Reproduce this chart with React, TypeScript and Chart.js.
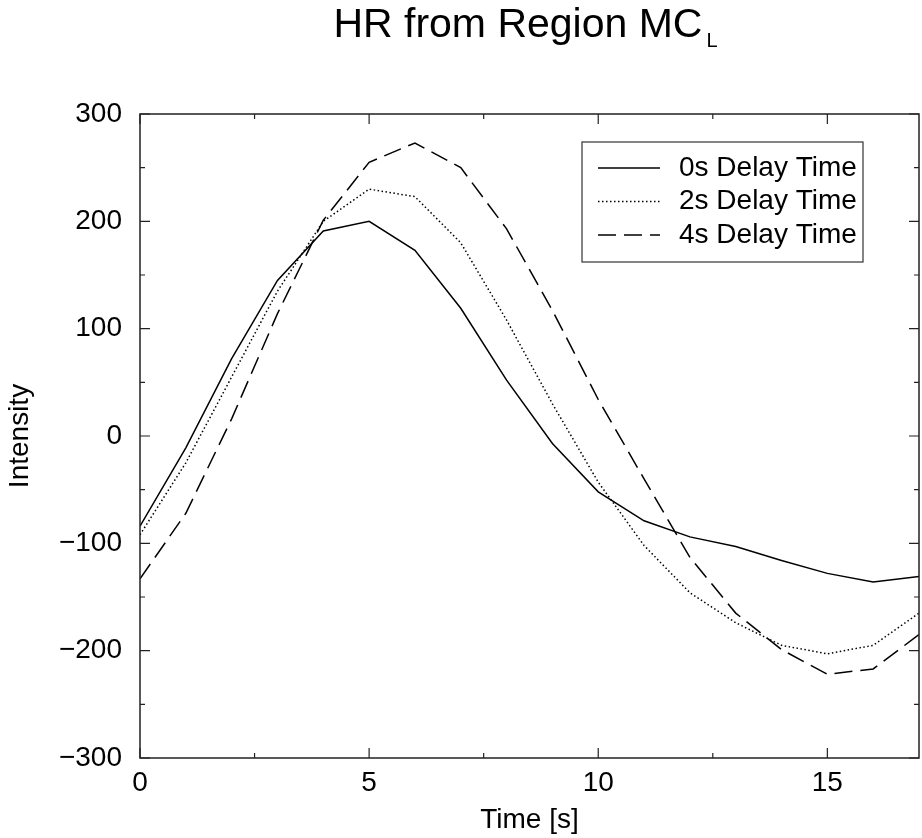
import React, { useEffect, useRef } from "react";
import { Chart, registerables } from "chart.js";

Chart.register(...registerables);

const timeValues = [0, 1, 2, 3, 4, 5, 6, 7, 8, 9, 10, 11, 12, 13, 14, 15, 16, 17];
const delay0 = [-84, -11, 72, 145, 191, 200, 173, 119, 52, -7, -52, -79, -94, -103, -116, -128, -136, -131];
const delay2 = [-92, -25, 55, 135, 200, 230, 223, 180, 108, 30, -43, -102, -146, -174, -195, -203, -195, -165];
const delay4 = [-133, -72, 16, 114, 201, 255, 273, 250, 193, 117, 34, -40, -113, -165, -199, -222, -217, -185];
const seriesLabels = ["0s Delay Time", "2s Delay Time", "4s Delay Time"];
const xTickValues = [0, 5, 10, 15];
const yTickValues = [-300, -200, -100, 0, 100, 200, 300];
const xMinorTicks = [2.5, 7.5, 12.5];
const yMinorTicks = [-250, -150, -50, 50, 150, 250];
const titleMain = "HR from Region MC";
const titleSub = "L";
const xTitle = "Time [s]";
const yTitle = "Intensity";

const FONT = "'Liberation Sans', Arial, Helvetica, sans-serif";
const dashes: number[][] = [[], [1.5, 2.5], [18, 8]];

const framePlugin = {
  id: "frameTicks",
  afterDraw(chart: any) {
    const { ctx, chartArea: a, scales } = chart;
    const xs = scales.x;
    const ys = scales.y;
    ctx.save();
    ctx.strokeStyle = "#222";
    ctx.lineWidth = 1.5;
    ctx.setLineDash([]);
    ctx.strokeRect(a.left, a.top, a.right - a.left, a.bottom - a.top);
    ctx.lineWidth = 1.2;
    const vt = (vals: number[], len: number) => {
      vals.forEach((v) => {
        const px = xs.getPixelForValue(v);
        ctx.beginPath();
        ctx.moveTo(px, a.bottom);
        ctx.lineTo(px, a.bottom - len);
        ctx.moveTo(px, a.top);
        ctx.lineTo(px, a.top + len);
        ctx.stroke();
      });
    };
    const ht = (vals: number[], len: number) => {
      vals.forEach((v) => {
        const py = ys.getPixelForValue(v);
        ctx.beginPath();
        ctx.moveTo(a.left, py);
        ctx.lineTo(a.left + len, py);
        ctx.moveTo(a.right, py);
        ctx.lineTo(a.right - len, py);
        ctx.stroke();
      });
    };
    vt(xTickValues, 10);
    vt(xMinorTicks, 5);
    ht(yTickValues, 10);
    ht(yMinorTicks, 5);

    // title
    ctx.fillStyle = "#000";
    ctx.textBaseline = "alphabetic";
    ctx.textAlign = "left";
    ctx.font = `41px ${FONT}`;
    const mw = ctx.measureText(titleMain).width;
    ctx.font = `20px ${FONT}`;
    const sw = ctx.measureText(titleSub).width;
    const gap = 4;
    const total = mw + gap + sw;
    const cx = (a.left + a.right) / 2 - 4;
    const sx = cx - total / 2;
    ctx.font = `41px ${FONT}`;
    ctx.fillText(titleMain, sx, 37);
    ctx.font = `20px ${FONT}`;
    ctx.fillText(titleSub, sx + mw + gap, 47);

    // legend
    const bx = a.right - 56 - 281;
    const by = a.top + 28;
    ctx.lineWidth = 1.2;
    ctx.strokeStyle = "#333";
    ctx.strokeRect(bx, by, 281, 120);
    ctx.font = `28px ${FONT}`;
    ctx.textBaseline = "middle";
    chart.data.datasets.forEach((ds: any, i: number) => {
      const ry = by + 26 + i * 33.5;
      ctx.strokeStyle = "#000";
      ctx.lineWidth = 1.4;
      ctx.setLineDash(dashes[i]);
      ctx.beginPath();
      ctx.moveTo(bx + 16, ry);
      ctx.lineTo(bx + 78, ry);
      ctx.stroke();
      ctx.setLineDash([]);
      ctx.fillStyle = "#000";
      ctx.fillText(ds.label, bx + 97, ry);
    });
    ctx.restore();
  },
};

const fmt = (v: number) => (v < 0 ? "\u2212" + Math.abs(v) : String(v));

export default function App() {
  const ref = useRef<HTMLCanvasElement | null>(null);
  useEffect(() => {
    if (!ref.current) return;
    const series = [delay0, delay2, delay4];
    const chart = new Chart(ref.current, {
      type: "line",
      data: {
        datasets: series.map((s, i) => ({
          label: seriesLabels[i],
          data: timeValues.map((t, j) => ({ x: t, y: s[j] })),
          borderColor: "#000",
          borderWidth: 1.5,
          borderDash: dashes[i],
          pointRadius: 0,
          tension: 0,
          fill: false,
        })),
      },
      options: {
        animation: false,
        responsive: false,
        maintainAspectRatio: false,
        layout: { padding: { top: 114, right: 3, left: 0, bottom: 0 } },
        plugins: {
          legend: { display: false },
          title: { display: false },
          tooltip: { enabled: false },
        },
        scales: {
          x: {
            type: "linear",
            min: 0,
            max: 17,
            grid: { display: false, drawTicks: false },
            border: { display: false },
            afterBuildTicks: (s: any) => {
              s.ticks = xTickValues.map((v) => ({ value: v }));
            },
            afterFit: (s: any) => {
              s.height = 80;
            },
            ticks: {
              color: "#000",
              font: { family: FONT, size: 28 },
              padding: 8,
              maxRotation: 0,
              callback: (v: any) => fmt(Number(v)),
            },
            title: {
              display: true,
              text: xTitle,
              color: "#000",
              font: { family: FONT, size: 28 },
              padding: { top: 0, bottom: 1 },
            },
          },
          y: {
            type: "linear",
            min: -300,
            max: 300,
            grid: { display: false, drawTicks: false },
            border: { display: false },
            afterBuildTicks: (s: any) => {
              s.ticks = yTickValues.map((v) => ({ value: v }));
            },
            afterFit: (s: any) => {
              s.width = 140;
            },
            ticks: {
              color: "#000",
              font: { family: FONT, size: 28 },
              padding: 18,
              callback: (v: any) => fmt(Number(v)),
            },
            title: {
              display: true,
              text: yTitle,
              color: "#000",
              font: { family: FONT, size: 28 },
              padding: { top: 3, bottom: 0 },
            },
          },
        },
      },
      plugins: [framePlugin],
    });
    return () => chart.destroy();
  }, []);
  return (
    <div style={{ position: "fixed", left: 0, top: 0, width: 922, height: 838, background: "#fff" }}>
      <canvas ref={ref} width={922} height={838} style={{ width: 922, height: 838, display: "block" }} />
    </div>
  );
}
